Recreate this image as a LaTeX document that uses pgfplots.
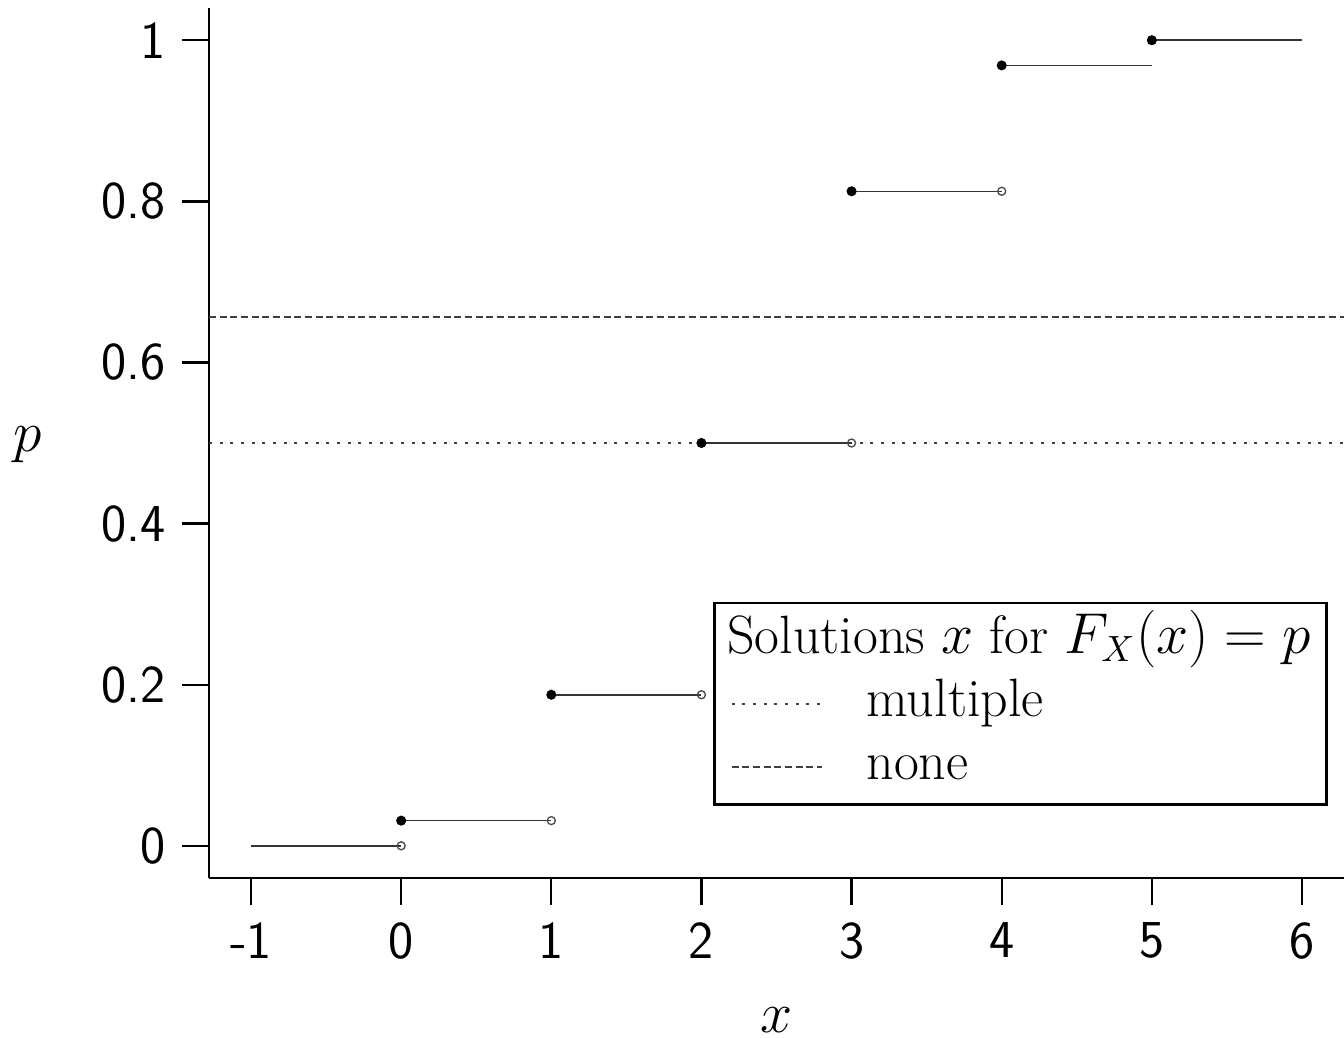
\documentclass[border=0pt]{standalone}
\usepackage{pgfplots}
\pgfplotsset{compat=1.18}
\begin{document}
\begin{tikzpicture}
\useasboundingbox (-62.7pt,-47.7pt) rectangle (340.5pt,263.4pt);
\begin{axis}[
  scale only axis,
  width=340.5pt, height=261pt,
  xmin=-1.28, xmax=6.28, ymin=-0.04, ymax=1.04,
  axis lines=left,
  axis line style={line width=0.7pt, -},
  every tick/.style={line width=0.7pt, black},
  tick align=outside,
  major tick length=8.1pt,
  xtick={-1,0,1,2,3,4,5,6},
  xticklabels={-1,0,1,2,3,4,5,6},
  ytick={0,0.2,0.4,0.6,0.8,1},
  yticklabels={0,0.2,0.4,0.6,0.8,1},
  ticklabel style={font=\sffamily\fontsize{16}{19}\selectfont},
  yticklabel style={anchor=east, xshift=-1.5pt},
  xticklabel style={anchor=north, yshift=-1.8pt},
  every axis x label/.style={at={(axis description cs:0.5,0)}, anchor=base, inner sep=0pt, yshift=-46.3pt, font=\fontsize{16}{19}\selectfont},
  every axis y label/.style={at={(axis description cs:0,0)}, anchor=base, xshift=-54.5pt, yshift=128pt, font=\fontsize{16}{19}\selectfont},
  xlabel={$x$}, ylabel={$p$},
  clip=false,
  legend cell align=left,
  legend image code/.code={\draw[#1] (0pt,0pt) -- (27pt,0pt);},
  legend style={at={(rel axis cs:0.986,0.0826)}, anchor=south east,
    draw=black, line width=0.8pt, inner xsep=4.8pt, inner ysep=3pt,
    font=\fontsize{16.2}{19}\selectfont,
    nodes={inner sep=0pt, text height=12pt, text depth=4.5pt},
    row sep=2.5pt,
    /tikz/every odd column/.append style={column sep=13.2pt}},
  unbounded coords=jump,
]
\addlegendimage{empty legend}
\addlegendentry{\hspace*{-41.8pt}Solutions $x$ for $F_X(x)=p$}
\addplot[line width=0.55pt, black!75, dash pattern=on 0.9pt off 2.3pt] coordinates {(-1.28,0.5) (6.28,0.5)};
\addlegendentry{multiple}
\addplot[line width=0.55pt, black!75, dash pattern=on 2.1pt off 1.1pt] coordinates {(-1.28,0.65625) (6.28,0.65625)};
\addlegendentry{none}
\addplot[forget plot, line width=0.45pt, black!80] coordinates {
(-1,0) (0,0) (nan,nan)
(0,0.03125) (1,0.03125) (nan,nan)
(1,0.1875) (2,0.1875) (nan,nan)
(2,0.5) (3,0.5) (nan,nan)
(3,0.8125) (4,0.8125) (nan,nan)
(4,0.96875) (5,0.96875) (nan,nan)
(5,1) (6,1)
};
\addplot[forget plot, only marks, mark=*, mark size=1.3pt, black] coordinates {
(0,0.03125) (1,0.1875) (2,0.5) (3,0.8125) (4,0.96875) (5,1)
};
\addplot[forget plot, only marks, mark=o, mark size=1.2pt, black!70, mark options={line width=0.4pt, fill=white}] coordinates {
(0,0) (1,0.03125) (2,0.1875) (3,0.5) (4,0.8125)
};
\end{axis}
\end{tikzpicture}
\end{document}
